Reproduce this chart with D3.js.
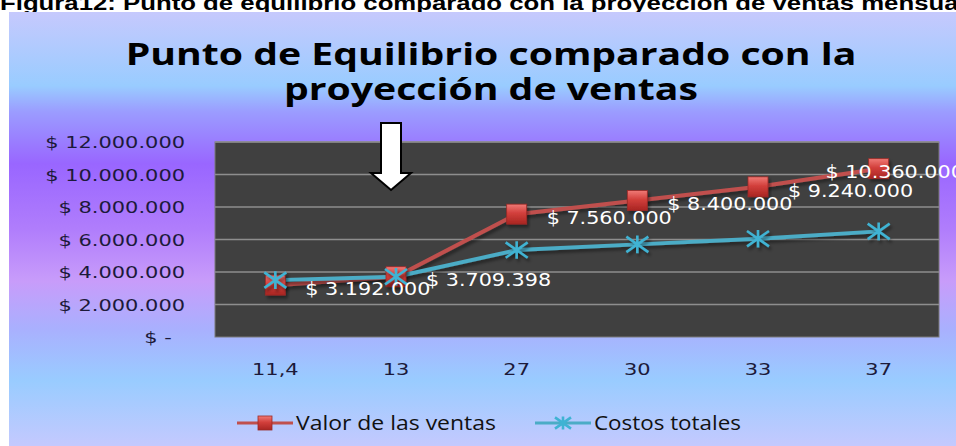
<!DOCTYPE html>
<html>
<head>
<meta charset="utf-8">
<script src="https://cdn.jsdelivr.net/npm/d3@7/dist/d3.min.js"></script>
<style>
body { margin: 0; background: #fff; }
text { white-space: pre; }
</style>
</head>
<body>
<script>
var width = 956, height = 446

// data
var categories = ["11,4", "13", "27", "30", "33", "37"]
var ventas = [3192000, 3709398, 7560000, 8400000, 9240000, 10360000]
var costos = [3500000, 3709398, 5350000, 5700000, 6050000, 6500000]
var yTicks = [0, 2000000, 4000000, 6000000, 8000000, 10000000, 12000000]
var seriesNames = ["Valor de las ventas", "Costos totales"]
var titleLines = ["Punto de Equilibrio comparado con la", "proyección de ventas"]
var caption = "Figura12: Punto de equilibrio comparado con la proyección de ventas mensuales"
var arrowAt = "13"

var red = "#c0504d", cyan = "#4bacc6"
var plot = {left: 215, right: 939, top: 142, bottom: 337}

var es = d3.formatLocale({decimal: ",", thousands: ".", grouping: [3], currency: ["$ ", ""]})
var money = es.format("$,.0f")
var moneyTick = v => v === 0 ? "$ -\u00a0\u00a0" : money(v)

var svg = d3.select("body").append("svg")
    .attr("width", width)
    .attr("height", height)

var defs = svg.append("defs")
var bg = defs.append("linearGradient")
    .attr("id", "bg")
    .attr("x1", 0).attr("y1", 0).attr("x2", 0).attr("y2", 1)
    ;[[0, "#c6c9fd"], [0.17, "#99ccff"], [0.23, "#9b9cff"], [0.35, "#9966ff"],
      [0.5, "#b07dfc"], [0.62, "#c89cfa"], [0.73, "#a9b0fe"], [0.85, "#99ccff"], [1, "#c4c9fe"]]
    .forEach(s => bg.append("stop").attr("offset", s[0]).attr("stop-color", s[1]))

var sq = defs.append("linearGradient")
    .attr("id", "sq")
    .attr("x1", 0).attr("y1", 0).attr("x2", 0).attr("y2", 1)
sq.append("stop").attr("offset", 0).attr("stop-color", "#f07a76")
sq.append("stop").attr("offset", 0.45).attr("stop-color", "#d23f3b")
sq.append("stop").attr("offset", 1).attr("stop-color", "#a82522")

defs.append("filter")
    .attr("id", "shadow")
    .attr("x", "-20%").attr("y", "-20%").attr("width", "140%").attr("height", "160%")
    .append("feDropShadow")
    .attr("dx", 2).attr("dy", 3).attr("stdDeviation", 1.8)
    .attr("flood-color", "#000").attr("flood-opacity", 0.4)

// stretch a text horizontally around its own anchor point
function stretchTo(sel, target) {
    sel.each(function () {
        let len = this.getComputedTextLength()
        let x = +this.getAttribute("x")
        let sx = target / len
        d3.select(this).attr("transform", `translate(${x * (1 - sx)},0) scale(${sx},1)`)
    })
}

// caption above the chart, cut at the top and right like the picture
var cap = svg.append("text")
    .attr("x", 0).attr("y", 10)
    .attr("font-family", "Liberation Sans, Arial, sans-serif")
    .attr("font-weight", "bold")
    .attr("font-size", 20)
    .attr("fill", "#000")
    .text(caption)
stretchTo(cap, 995)

svg.append("rect")
    .attr("x", 9).attr("y", 12)
    .attr("width", width - 9).attr("height", height - 12)
    .attr("fill", "url(#bg)")

var title = svg.append("g")
    .attr("font-family", "Open Sans, sans-serif")
    .attr("font-weight", "bold")
    .attr("font-size", 31)
    .attr("fill", "#000")
    .attr("text-anchor", "middle")
title.selectAll("text")
    .data(titleLines)
    .enter().append("text")
    .attr("x", 491)
    .attr("y", (d, i) => 65 + i * 35)
    .text(d => d)
var t0 = title.select("text").node().getComputedTextLength()
title.selectAll("text").each(function () {
    let tx = 491, sx = 731 / t0
    d3.select(this).attr("transform", `translate(${tx * (1 - sx)},0) scale(${sx},1)`)
})

var x = d3.scaleBand()
    .domain(categories)
    .range([plot.left, plot.right])
    .padding(0)
var cx = d => x(d) + x.bandwidth() / 2

var y = d3.scaleLinear()
    .domain([0, 12000000])
    .range([plot.bottom, plot.top])

svg.append("rect")
    .attr("x", plot.left).attr("y", plot.top)
    .attr("width", plot.right - plot.left).attr("height", plot.bottom - plot.top)
    .attr("fill", "#404040")
    .attr("stroke", "#7a7a7a")
    .attr("stroke-width", 1)

svg.append("g")
    .selectAll("line")
    .data(yTicks.filter(v => v > 0))
    .enter().append("line")
    .attr("x1", plot.left).attr("x2", plot.right)
    .attr("y1", d => y(d)).attr("y2", d => y(d))
    .attr("stroke", "#8e8e8e")
    .attr("stroke-width", 1.5)

var axisSx = 1.35
var yAxis = svg.append("g")
    .attr("transform", `translate(${plot.left},0)`)
    .call(d3.axisLeft(y).tickValues(yTicks).tickFormat(moneyTick).tickSize(0).tickPadding(0))
yAxis.select(".domain").remove()
yAxis.selectAll("text")
    .attr("font-family", "DejaVu Sans, sans-serif")
    .attr("font-size", 15.5)
    .attr("fill", "#1c1a3a")
    .attr("x", -30 / axisSx)
    .attr("dy", "0.36em")
    .attr("transform", `scale(${axisSx},1)`)

var xAxis = svg.append("g")
    .attr("transform", `translate(0,${plot.bottom})`)
    .call(d3.axisBottom(x).tickSize(0).tickPadding(0))
xAxis.select(".domain").remove()
xAxis.selectAll("text")
    .attr("font-family", "DejaVu Sans, sans-serif")
    .attr("font-size", 15.5)
    .attr("fill", "#1c1a3a")
    .attr("y", 32)
    .attr("dy", "0.36em")
    .attr("transform", `scale(${axisSx},1)`)
    .attr("x", 0)

// break-even arrow
var ax = cx(arrowAt) - 5
svg.append("path")
    .attr("d", `M${ax - 10},123 L${ax + 10},123 L${ax + 10},173 L${ax + 20},173 L${ax},190 L${ax - 20},173 L${ax - 10},173 Z`)
    .attr("fill", "#fff")
    .attr("stroke", "#000")
    .attr("stroke-width", 2)

var line = d3.line()
    .x((d, i) => cx(categories[i]))
    .y(d => y(d))

svg.append("path")
    .datum(ventas)
    .attr("d", line)
    .attr("fill", "none")
    .attr("stroke", red)
    .attr("stroke-width", 4)
    .attr("filter", "url(#shadow)")

svg.append("path")
    .datum(costos)
    .attr("d", line)
    .attr("fill", "none")
    .attr("stroke", cyan)
    .attr("stroke-width", 4)
    .attr("filter", "url(#shadow)")

function square(g, s) {
    g.append("rect")
        .attr("x", -s / 2).attr("y", -s / 2)
        .attr("width", s).attr("height", s)
        .attr("fill", "url(#sq)")
        .attr("stroke", "#9c2a27")
        .attr("stroke-width", 0.8)
}
function star(g, s) {
    let h = s / 2
    g.append("path")
        .attr("d", `M0,${-h * 0.8}V${h * 0.8}M${-h},${-h * 0.7}L${h},${h * 0.7}M${-h},${h * 0.7}L${h},${-h * 0.7}`)
        .attr("stroke", "#3fb3d3")
        .attr("stroke-width", 2.6)
        .attr("fill", "none")
}

svg.append("g")
    .selectAll("g")
    .data(ventas)
    .enter().append("g")
    .attr("transform", (d, i) => `translate(${cx(categories[i])},${y(d)})`)
    .attr("filter", "url(#shadow)")
    .each(function () { square(d3.select(this), 20) })

svg.append("g")
    .selectAll("g")
    .data(costos)
    .enter().append("g")
    .attr("transform", (d, i) => `translate(${cx(categories[i])},${y(d)})`)
    .attr("filter", "url(#shadow)")
    .each(function () { star(d3.select(this), 22) })

// data labels of the sales series, right of each point, kept inside the chart
var labelSx = 1.12
svg.append("g")
    .selectAll("text")
    .data(ventas)
    .enter().append("text")
    .attr("font-family", "DejaVu Sans, sans-serif")
    .attr("font-size", 18.5)
    .attr("fill", "#fff")
    .attr("dy", "0.36em")
    .text(d => money(d))
    .each(function (d, i) {
        let w = this.getComputedTextLength() * labelSx
        let lx = Math.min(cx(categories[i]) + 30, width - w + 8)
        d3.select(this).attr("transform", `translate(${lx},${y(d) + 3}) scale(${labelSx},1)`)
    })

// legend
var legend = svg.append("g")
var lx = 237
seriesNames.forEach((name, i) => {
    let g = legend.append("g").attr("transform", `translate(${lx},423)`)
    g.append("line")
        .attr("x1", 0).attr("x2", 56)
        .attr("stroke", i === 0 ? red : cyan)
        .attr("stroke-width", 3)
    let m = g.append("g").attr("transform", "translate(28,0)")
    if (i === 0) square(m, 14)
    else star(m, 16)
    let t = g.append("text")
        .attr("x", 59)
        .attr("dy", "0.35em")
        .attr("font-family", "Open Sans, sans-serif")
        .attr("font-size", 20)
        .attr("fill", "#111")
        .text(name)
    let target = i === 0 ? 200 : 147
    stretchTo(t, target)
    lx += 59 + target + 39
})
</script>
</body>
</html>
